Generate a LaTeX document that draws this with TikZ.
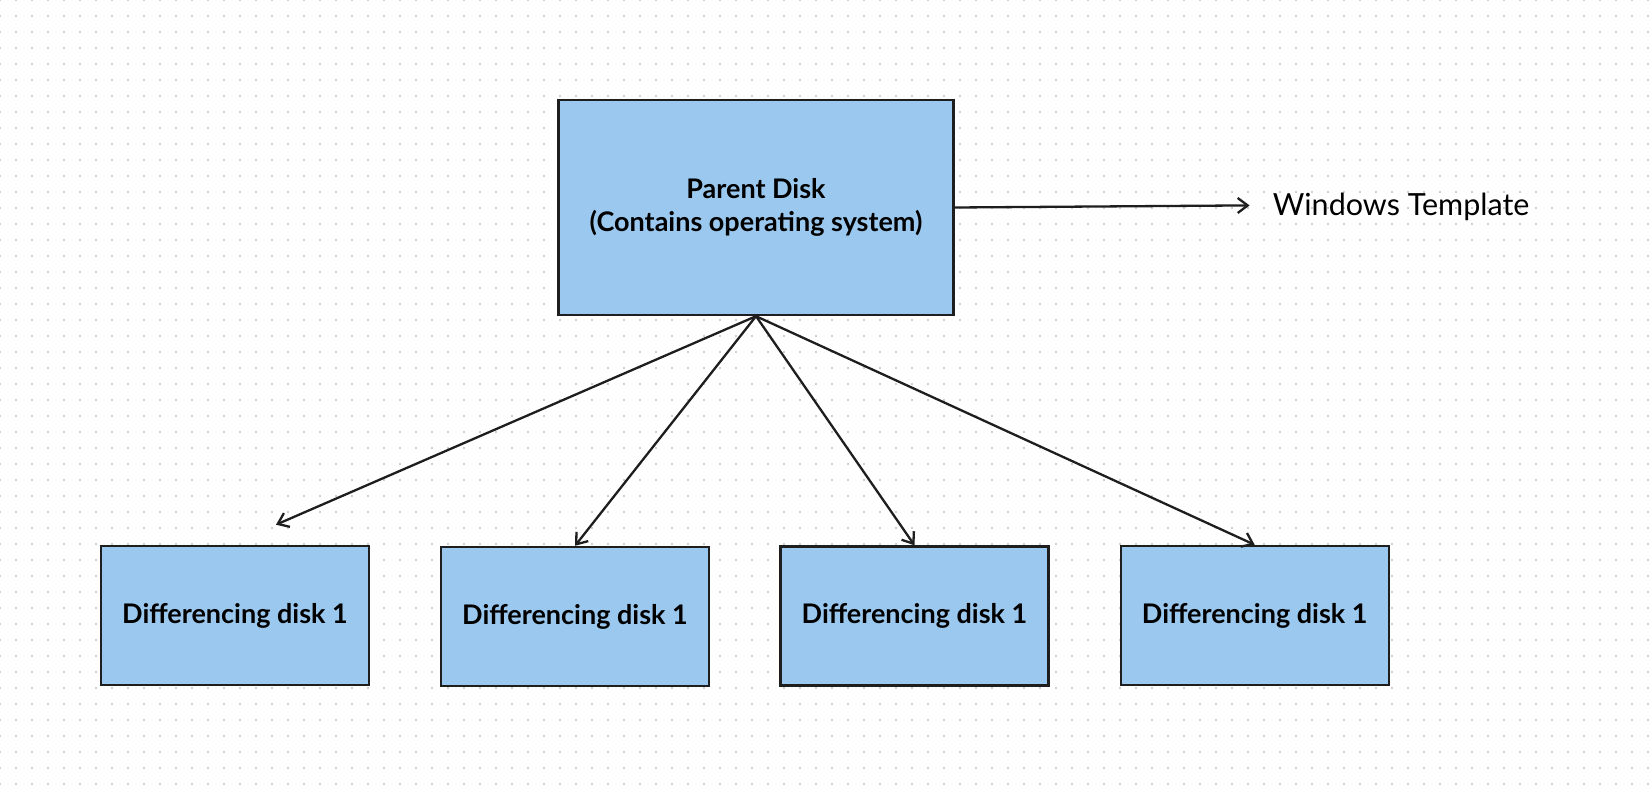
\documentclass[tikz,border=0pt]{standalone}
\usepackage{fontspec}
\setmainfont{Lato}
\usetikzlibrary{arrows.meta}
\definecolor{boxfill}{RGB}{155,200,238}
\definecolor{ink}{RGB}{30,30,30}
\definecolor{dotc}{RGB}{205,205,205}
\tikzset{
  diskbox/.style={draw=ink, fill=boxfill, line width=2.4pt, rectangle, inner sep=0pt, align=center, font=\fontsize{27}{33}\selectfont\bfseries},
  smallbox/.style={diskbox, minimum width=268pt, minimum height=139pt},
  arr/.style={draw=ink, line width=2.3pt, -{Straight Barb[length=10pt,width=15pt,line width=2.3pt]}},
  lbl/.style={inner sep=0pt, font=\fontsize{30.5}{34}\selectfont, text=black}
}
\begin{document}
\begin{tikzpicture}[x=1pt,y=-1pt]
\useasboundingbox (0,0) rectangle (1652,788);
\fill[white] (0,0) rectangle (1652,788);
\foreach \i in {0,...,103}{
  \foreach \j in {0,...,49}{
    \fill[dotc] (16*\i-1,16*\j-1) rectangle ++(2,2);
  }
}
\node[diskbox, minimum width=395pt, minimum height=215pt] (parent) at (756,207.5) {Parent Disk\\(Contains operating system)};
\node[smallbox] (d1) at (235,615.5) {Differencing disk 1};
\node[smallbox] (d2) at (575,616.5) {Differencing disk 1};
\node[smallbox] (d3) at (914.5,616) {Differencing disk 1};
\node[smallbox] (d4) at (1254.7,615.5) {Differencing disk 1};
\node[lbl, anchor=west] (wt) at (1272.7,207) {Windows Template};
\coordinate (wtend) at (1249.6,205.4);
\coordinate (e1) at (276,524.7);
\draw[arr] (parent.east) -- (wtend);
\draw[arr] (parent.south) -- (e1);
\draw[arr] (parent.south) -- (d2.north);
\draw[arr] (parent.south) -- (d3.north);
\draw[arr] (parent.south) -- (d4.north);
\end{tikzpicture}
\end{document}
